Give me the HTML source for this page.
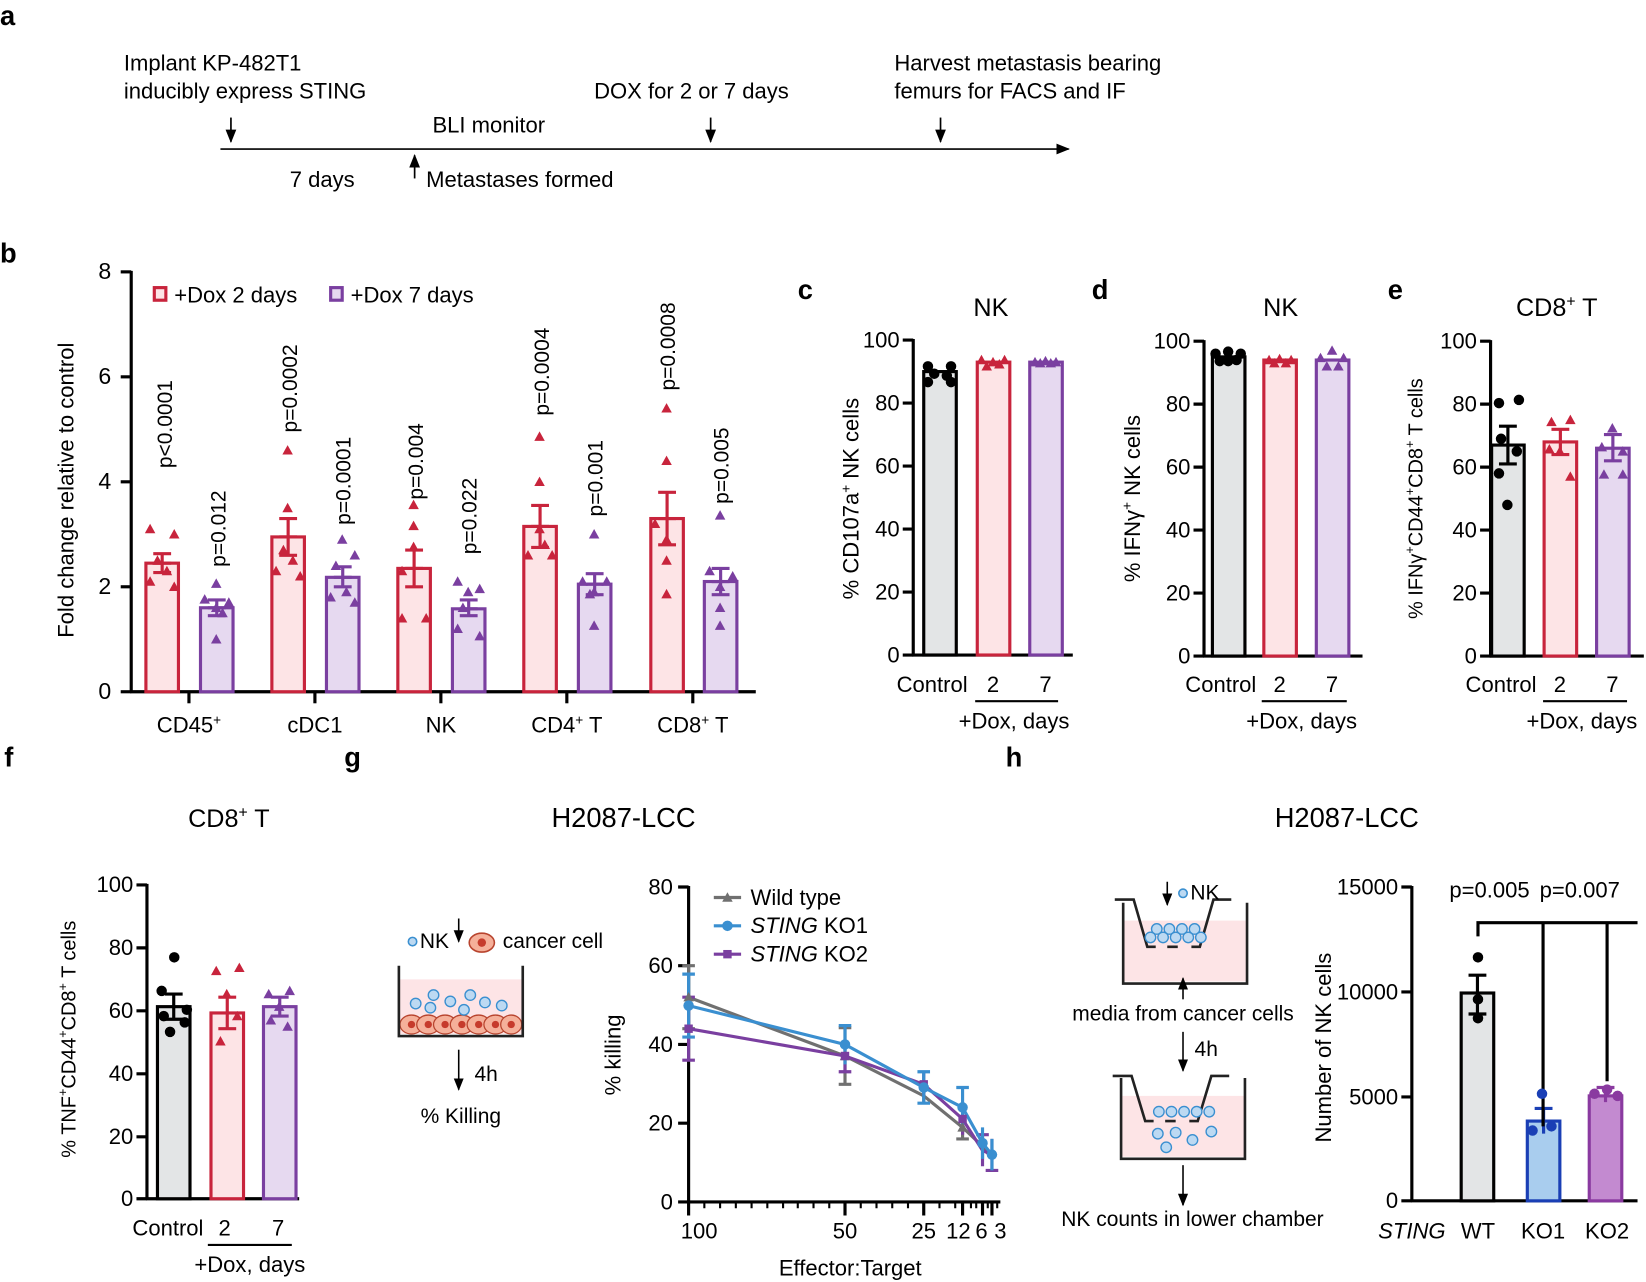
<!DOCTYPE html>
<html><head><meta charset="utf-8"><style>
html,body{margin:0;padding:0;background:#fff}
svg{display:block;font-family:"Liberation Sans",Arial,sans-serif}
</style></head><body>
<svg width="1646" height="1282" viewBox="0 0 1646 1282" xmlns="http://www.w3.org/2000/svg">
<defs>
<polygon id="t" points="0,-5 5,4 -5,4"/>
<circle id="c" r="5"/>
<rect id="s" x="-4" y="-4" width="8" height="8"/>
<marker id="ah" viewBox="0 0 10 10" refX="9" refY="5" markerWidth="8" markerHeight="8" orient="auto"><path d="M0,1 L10,5 L0,9 z" fill="#000"/></marker>
</defs>
<g transform="scale(1.0497)">
<g font-size="21" fill="#000">
<!-- panel labels -->
<text x="0" y="24" font-weight="bold" font-size="26">a</text>
<text x="0" y="250" font-weight="bold" font-size="26">b</text>
<text x="760" y="285" font-weight="bold" font-size="26">c</text>
<text x="1040" y="285" font-weight="bold" font-size="26">d</text>
<text x="1322" y="285" font-weight="bold" font-size="26">e</text>
<text x="4" y="730" font-weight="bold" font-size="26">f</text>
<text x="328" y="730" font-weight="bold" font-size="26">g</text>
<text x="958" y="730" font-weight="bold" font-size="26">h</text>

<!-- panel a -->
<text x="118" y="67">Implant KP-482T1</text>
<text x="118" y="94">inducibly express STING</text>
<text x="412" y="126">BLI monitor</text>
<text x="566" y="94">DOX for 2 or 7 days</text>
<text x="852" y="67">Harvest metastasis bearing</text>
<text x="852" y="94">femurs for FACS and IF</text>
<text x="276" y="178">7 days</text>
<text x="406" y="178">Metastases formed</text>
<g stroke="#000" stroke-width="1.6" fill="none">
<line x1="210" y1="142" x2="1018" y2="142" marker-end="url(#ah)"/>
<line x1="220" y1="112" x2="220" y2="135" marker-end="url(#ah)"/>
<line x1="677" y1="112" x2="677" y2="135" marker-end="url(#ah)"/>
<line x1="896" y1="112" x2="896" y2="135" marker-end="url(#ah)"/>
<line x1="395" y1="170" x2="395" y2="148" marker-end="url(#ah)"/>
</g>

<!-- panel b -->
<g stroke="#000" stroke-width="3" fill="none">
<line x1="125" y1="258" x2="125" y2="660"/>
<line x1="124" y1="659" x2="720" y2="659"/>
<line x1="115" y1="259" x2="125" y2="259"/><line x1="115" y1="359" x2="125" y2="359"/>
<line x1="115" y1="459" x2="125" y2="459"/><line x1="115" y1="559" x2="125" y2="559"/>
<line x1="115" y1="659" x2="125" y2="659"/>
<line x1="180" y1="659" x2="180" y2="670"/><line x1="300" y1="659" x2="300" y2="670"/>
<line x1="420" y1="659" x2="420" y2="670"/><line x1="540" y1="659" x2="540" y2="670"/>
<line x1="660" y1="659" x2="660" y2="670"/>
</g>
<g text-anchor="end" font-size="22"><text x="106" y="266">8</text><text x="106" y="366">6</text><text x="106" y="466">4</text><text x="106" y="566">2</text><text x="106" y="666">0</text></g>
<text transform="translate(70,467) rotate(-90)" text-anchor="middle">Fold change relative to control</text>
<g text-anchor="middle"><text x="180" y="698">CD45<tspan font-size="13" dy="-8">+</tspan></text><text x="300" y="698">cDC1</text><text x="420" y="698">NK</text><text x="540" y="698">CD4<tspan font-size="13" dy="-8">+</tspan><tspan dy="8"> T</tspan></text><text x="660" y="698">CD8<tspan font-size="13" dy="-8">+</tspan><tspan dy="8"> T</tspan></text></g>
<rect x="147" y="274" width="11" height="12" fill="#fde4e6" stroke="#c8243c" stroke-width="3"/>
<text x="166" y="288">+Dox 2 days</text>
<rect x="315" y="274" width="11" height="12" fill="#e6d9f0" stroke="#7a3fa0" stroke-width="3"/>
<text x="334" y="288">+Dox 7 days</text>
<g stroke-width="3">
<g fill="#fde4e6" stroke="#c8243c">
<rect x="139" y="536.5" width="31" height="122.5"/><rect x="259" y="511.5" width="31" height="147.5"/>
<rect x="379" y="541.5" width="31" height="117.5"/><rect x="499" y="501.5" width="31" height="157.5"/>
<rect x="620" y="494" width="31" height="165"/>
</g>
<g fill="#e6d9f0" stroke="#7a3fa0">
<rect x="191" y="579" width="31" height="80"/><rect x="311" y="550" width="31" height="109"/>
<rect x="431" y="580" width="31" height="79"/><rect x="551" y="556.5" width="31" height="102.5"/>
<rect x="671" y="554" width="31" height="105"/>
</g>
<g stroke="#c8243c" fill="none">
<path d="M154.5 545.5V527.5M146 527.5H163M146 545.5H163M146 536.5H163"/>
<path d="M274.5 529V494M266 494H283M266 529H283M266 511.5H283"/>
<path d="M394.5 559V524M386 524H403M386 559H403M386 541.5H403"/>
<path d="M514.5 521.5V481.5M506 481.5H523M506 521.5H523M506 501.5H523"/>
<path d="M635.5 519V469M627 469H644M627 519H644M627 494H644"/>
</g>
<g stroke="#7a3fa0" fill="none">
<path d="M206.5 586.5V571.5M198 571.5H215M198 586.5H215M198 579H215"/>
<path d="M326.5 559V540M318 540H335M318 559H335M318 550H335"/>
<path d="M446.5 586.5V571.5M438 571.5H455M438 586.5H455M438 580H455"/>
<path d="M566.5 566.5V546.5M558 546.5H575M558 566.5H575M558 556.5H575"/>
<path d="M686.5 566.5V541.5M678 541.5H695M678 566.5H695M678 554H695"/>
</g>
</g>
<g fill="#c8243c">
<use href="#t" x="143" y="504"/><use href="#t" x="166" y="509"/><use href="#t" x="150" y="534"/><use href="#t" x="159" y="544"/><use href="#t" x="143" y="554"/><use href="#t" x="166" y="559"/>
<use href="#t" x="274" y="429"/><use href="#t" x="274" y="484"/><use href="#t" x="270" y="524"/><use href="#t" x="279" y="534"/><use href="#t" x="263" y="544"/><use href="#t" x="286" y="549"/>
<use href="#t" x="394" y="481"/><use href="#t" x="394" y="501"/><use href="#t" x="394" y="521"/><use href="#t" x="383" y="544"/><use href="#t" x="383" y="589"/><use href="#t" x="406" y="589"/>
<use href="#t" x="514" y="416"/><use href="#t" x="514" y="459"/><use href="#t" x="514" y="504"/><use href="#t" x="519" y="519"/><use href="#t" x="503" y="529"/><use href="#t" x="526" y="529"/>
<use href="#t" x="635" y="389"/><use href="#t" x="635" y="439"/><use href="#t" x="624" y="499"/><use href="#t" x="635" y="514"/><use href="#t" x="635" y="534"/><use href="#t" x="635" y="566"/>
</g>
<g fill="#7a3fa0">
<use href="#t" x="206" y="556"/><use href="#t" x="195" y="571"/><use href="#t" x="218" y="574"/><use href="#t" x="206" y="579"/><use href="#t" x="212" y="584"/><use href="#t" x="206" y="609"/>
<use href="#t" x="326" y="514"/><use href="#t" x="338" y="529"/><use href="#t" x="320" y="539"/><use href="#t" x="330" y="564"/><use href="#t" x="315" y="569"/><use href="#t" x="338" y="574"/>
<use href="#t" x="436" y="554"/><use href="#t" x="457" y="561"/><use href="#t" x="446" y="564"/><use href="#t" x="441" y="579"/><use href="#t" x="436" y="599"/><use href="#t" x="457" y="606"/>
<use href="#t" x="566" y="509"/><use href="#t" x="555" y="554"/><use href="#t" x="578" y="554"/><use href="#t" x="566" y="564"/><use href="#t" x="562" y="566"/><use href="#t" x="566" y="596"/>
<use href="#t" x="686" y="491"/><use href="#t" x="676" y="544"/><use href="#t" x="698" y="549"/><use href="#t" x="686" y="559"/><use href="#t" x="686" y="579"/><use href="#t" x="686" y="596"/>
</g>
<g font-size="20">
<text transform="translate(164,446) rotate(-90)">p&lt;0.0001</text>
<text transform="translate(215,540) rotate(-90)">p=0.012</text>
<text transform="translate(283,412) rotate(-90)">p=0.0002</text>
<text transform="translate(334,500) rotate(-90)">p=0.0001</text>
<text transform="translate(403,476) rotate(-90)">p=0.004</text>
<text transform="translate(454,528) rotate(-90)">p=0.022</text>
<text transform="translate(523,396) rotate(-90)">p=0.0004</text>
<text transform="translate(574,492) rotate(-90)">p=0.001</text>
<text transform="translate(643,372) rotate(-90)">p=0.0008</text>
<text transform="translate(694,480) rotate(-90)">p=0.005</text>
</g>

<!-- panel c -->
<text x="944" y="301" text-anchor="middle" font-size="24">NK</text>
<g stroke="#000" stroke-width="3" fill="none">
<line x1="870" y1="323" x2="870" y2="625"/><line x1="869" y1="624" x2="1022" y2="624"/>
<path d="M860 324H870M860 384H870M860 444H870M860 504H870M860 564H870M860 624H870"/>
</g>
<g text-anchor="end" font-size="21"><text x="857" y="331">100</text><text x="857" y="391">80</text><text x="857" y="451">60</text><text x="857" y="511">40</text><text x="857" y="571">20</text><text x="857" y="631">0</text></g>
<text transform="translate(818,475) rotate(-90)" text-anchor="middle">% CD107a<tspan font-size="13" dy="-8">+</tspan><tspan dy="8"> NK cells</tspan></text>
<g stroke-width="3">
<rect x="880" y="354" width="31" height="270" fill="#e3e5e6" stroke="#000"/>
<rect x="931" y="345" width="31" height="279" fill="#fde4e6" stroke="#c8243c"/>
<rect x="981" y="345" width="31" height="279" fill="#e6d9f0" stroke="#7a3fa0"/>
</g>
<g fill="#000"><use href="#c" x="884" y="349"/><use href="#c" x="906" y="349"/><use href="#c" x="890" y="356"/><use href="#c" x="902" y="358"/><use href="#c" x="884" y="364"/><use href="#c" x="906" y="364"/></g>
<g fill="#c8243c"><use href="#t" x="935" y="343"/><use href="#t" x="946" y="345"/><use href="#t" x="957" y="343"/><use href="#t" x="940" y="349"/><use href="#t" x="952" y="347"/></g>
<g fill="#7a3fa0"><use href="#t" x="986" y="345"/><use href="#t" x="996" y="344"/><use href="#t" x="1006" y="345"/><use href="#t" x="991" y="346"/><use href="#t" x="1001" y="346"/></g>
<g font-size="21" text-anchor="middle"><text x="888" y="659">Control</text><text x="946" y="659">2</text><text x="996" y="659">7</text><text x="966" y="694">+Dox, days</text></g>
<line x1="929" y1="668" x2="1008" y2="668" stroke="#000" stroke-width="2"/>

<!-- panel d -->
<text x="1220" y="301" text-anchor="middle" font-size="24">NK</text>
<g stroke="#000" stroke-width="3" fill="none">
<line x1="1147" y1="324" x2="1147" y2="626"/><line x1="1146" y1="625" x2="1298" y2="625"/>
<path d="M1137 325H1147M1137 385H1147M1137 445H1147M1137 505H1147M1137 565H1147M1137 625H1147"/>
</g>
<g text-anchor="end" font-size="21"><text x="1134" y="332">100</text><text x="1134" y="392">80</text><text x="1134" y="452">60</text><text x="1134" y="512">40</text><text x="1134" y="572">20</text><text x="1134" y="632">0</text></g>
<text transform="translate(1086,475) rotate(-90)" text-anchor="middle">% IFNγ<tspan font-size="13" dy="-8">+</tspan><tspan dy="8"> NK cells</tspan></text>
<g stroke-width="3">
<rect x="1155" y="340" width="31" height="285" fill="#e3e5e6" stroke="#000"/>
<rect x="1204" y="343" width="31" height="282" fill="#fde4e6" stroke="#c8243c"/>
<rect x="1254" y="343" width="31" height="282" fill="#e6d9f0" stroke="#7a3fa0"/>
</g>
<g fill="#000"><use href="#c" x="1158" y="337"/><use href="#c" x="1170" y="335"/><use href="#c" x="1182" y="337"/><use href="#c" x="1162" y="344"/><use href="#c" x="1178" y="343"/><use href="#c" x="1170" y="344"/></g>
<g fill="#c8243c"><use href="#t" x="1209" y="343"/><use href="#t" x="1219" y="342"/><use href="#t" x="1230" y="343"/><use href="#t" x="1214" y="346"/><use href="#t" x="1225" y="346"/></g>
<g fill="#7a3fa0"><use href="#t" x="1269" y="334"/><use href="#t" x="1258" y="341"/><use href="#t" x="1280" y="341"/><use href="#t" x="1264" y="349"/><use href="#t" x="1275" y="349"/></g>
<g font-size="21" text-anchor="middle"><text x="1163" y="659">Control</text><text x="1219" y="659">2</text><text x="1269" y="659">7</text><text x="1240" y="694">+Dox, days</text></g>
<line x1="1202" y1="668" x2="1283" y2="668" stroke="#000" stroke-width="2"/>

<!-- panel e -->
<text x="1483" y="301" text-anchor="middle" font-size="24">CD8<tspan font-size="15" dy="-9">+</tspan><tspan dy="9"> T</tspan></text>
<g stroke="#000" stroke-width="3" fill="none">
<line x1="1420" y1="324" x2="1420" y2="626"/><line x1="1419" y1="625" x2="1566" y2="625"/>
<path d="M1410 325H1420M1410 385H1420M1410 445H1420M1410 505H1420M1410 565H1420M1410 625H1420"/>
</g>
<g text-anchor="end" font-size="21"><text x="1407" y="332">100</text><text x="1407" y="392">80</text><text x="1407" y="452">60</text><text x="1407" y="512">40</text><text x="1407" y="572">20</text><text x="1407" y="632">0</text></g>
<text transform="translate(1355,475) rotate(-90)" text-anchor="middle" font-size="19">% IFNγ<tspan font-size="12" dy="-8">+</tspan><tspan dy="8">CD44</tspan><tspan font-size="12" dy="-8">+</tspan><tspan dy="8">CD8</tspan><tspan font-size="12" dy="-8">+</tspan><tspan dy="8"> T cells</tspan></text>
<g stroke-width="3">
<rect x="1421" y="424" width="31" height="201" fill="#e3e5e6" stroke="#000"/>
<rect x="1471" y="421" width="31" height="204" fill="#fde4e6" stroke="#c8243c"/>
<rect x="1521" y="427" width="31" height="198" fill="#e6d9f0" stroke="#7a3fa0"/>
<path d="M1436.5 406V442M1428 406H1445M1428 442H1445" stroke="#000" fill="none"/>
<path d="M1486.5 409V433M1478 409H1495M1478 433H1495" stroke="#c8243c" fill="none"/>
<path d="M1536.5 414V439M1528 414H1545M1528 439H1545" stroke="#7a3fa0" fill="none"/>
</g>
<g fill="#000"><use href="#c" x="1428" y="384"/><use href="#c" x="1447" y="381"/><use href="#c" x="1430" y="418"/><use href="#c" x="1445" y="430"/><use href="#c" x="1428" y="451"/><use href="#c" x="1436" y="481"/></g>
<g fill="#c8243c"><use href="#t" x="1478" y="402"/><use href="#t" x="1496" y="400"/><use href="#t" x="1486" y="430"/><use href="#t" x="1476" y="428"/><use href="#t" x="1496" y="454"/></g>
<g fill="#7a3fa0"><use href="#t" x="1536" y="408"/><use href="#t" x="1526" y="426"/><use href="#t" x="1546" y="430"/><use href="#t" x="1528" y="452"/><use href="#t" x="1546" y="452"/></g>
<g font-size="21" text-anchor="middle"><text x="1430" y="659">Control</text><text x="1486" y="659">2</text><text x="1536" y="659">7</text><text x="1507" y="694">+Dox, days</text></g>
<line x1="1470" y1="668" x2="1550" y2="668" stroke="#000" stroke-width="2"/>

<!-- panel f -->
<text x="218" y="788" text-anchor="middle" font-size="24">CD8<tspan font-size="15" dy="-9">+</tspan><tspan dy="9"> T</tspan></text>
<g stroke="#000" stroke-width="3" fill="none">
<line x1="140" y1="842" x2="140" y2="1143"/><line x1="139" y1="1142" x2="285" y2="1142"/>
<path d="M130 843H140M130 903H140M130 963H140M130 1023H140M130 1083H140M130 1142H140"/>
</g>
<g text-anchor="end" font-size="21"><text x="127" y="850">100</text><text x="127" y="910">80</text><text x="127" y="970">60</text><text x="127" y="1030">40</text><text x="127" y="1090">20</text><text x="127" y="1149">0</text></g>
<text transform="translate(72,990) rotate(-90)" text-anchor="middle" font-size="19">% TNF<tspan font-size="12" dy="-8">+</tspan><tspan dy="8">CD44</tspan><tspan font-size="12" dy="-8">+</tspan><tspan dy="8">CD8</tspan><tspan font-size="12" dy="-8">+</tspan><tspan dy="8"> T cells</tspan></text>
<g stroke-width="3">
<rect x="150" y="959" width="31" height="183" fill="#e3e5e6" stroke="#000"/>
<rect x="201" y="965" width="31" height="177" fill="#fde4e6" stroke="#c8243c"/>
<rect x="251" y="959" width="31" height="183" fill="#e6d9f0" stroke="#7a3fa0"/>
<path d="M165.5 947V971M157 947H174M157 971H174" stroke="#000" fill="none"/>
<path d="M216.5 950V980M208 950H225M208 980H225" stroke="#c8243c" fill="none"/>
<path d="M266.5 950V968M258 950H275M258 968H275" stroke="#7a3fa0" fill="none"/>
</g>
<g fill="#000"><use href="#c" x="166" y="912"/><use href="#c" x="154" y="944"/><use href="#c" x="178" y="962"/><use href="#c" x="156" y="968"/><use href="#c" x="176" y="974"/><use href="#c" x="162" y="983"/></g>
<g fill="#c8243c"><use href="#t" x="206" y="925"/><use href="#t" x="228" y="922"/><use href="#t" x="216" y="947"/><use href="#t" x="226" y="968"/><use href="#t" x="210" y="992"/></g>
<g fill="#7a3fa0"><use href="#t" x="256" y="947"/><use href="#t" x="276" y="944"/><use href="#t" x="266" y="959"/><use href="#t" x="258" y="972"/><use href="#t" x="274" y="978"/></g>
<g font-size="21" text-anchor="middle"><text x="160" y="1177">Control</text><text x="214" y="1177">2</text><text x="265" y="1177">7</text><text x="238" y="1212">+Dox, days</text></g>
<line x1="198" y1="1186" x2="278" y2="1186" stroke="#000" stroke-width="2"/>

<!-- panel g -->
<text x="594" y="788" text-anchor="middle" font-size="26">H2087-LCC</text>
<circle cx="393" cy="897" r="4" fill="#bcd9f2" stroke="#3a8fd0" stroke-width="1.5"/>
<text x="400" y="903" font-size="20">NK</text>
<line x1="437" y1="875" x2="437" y2="897" stroke="#000" stroke-width="1.5" marker-end="url(#ah)"/>
<ellipse cx="459" cy="898" rx="12" ry="9" fill="#f5b09a" stroke="#b8442e" stroke-width="1.5"/><circle cx="459" cy="898" r="4" fill="#c63b2c"/>
<text x="479" y="903" font-size="20">cancer cell</text>
<rect x="380" y="933" width="118" height="52" fill="#fde4e6"/>
<g fill="#f5b09a" stroke="#b8442e" stroke-width="1.2">
<ellipse cx="392" cy="976" rx="11" ry="9"/><ellipse cx="408" cy="976" rx="11" ry="9"/><ellipse cx="424" cy="976" rx="11" ry="9"/><ellipse cx="440" cy="976" rx="11" ry="9"/><ellipse cx="456" cy="976" rx="11" ry="9"/><ellipse cx="472" cy="976" rx="11" ry="9"/><ellipse cx="487" cy="976" rx="10" ry="9"/>
</g>
<g fill="#c63b2c"><circle cx="392" cy="976" r="3.5"/><circle cx="408" cy="976" r="3.5"/><circle cx="424" cy="976" r="3.5"/><circle cx="440" cy="976" r="3.5"/><circle cx="456" cy="976" r="3.5"/><circle cx="472" cy="976" r="3.5"/><circle cx="487" cy="976" r="3.5"/></g>
<g fill="#bcd9f2" stroke="#3a8fd0" stroke-width="1.3">
<circle cx="396" cy="956" r="5"/><circle cx="410" cy="960" r="5"/><circle cx="413" cy="948" r="5"/><circle cx="429" cy="954" r="5"/><circle cx="442" cy="962" r="5"/><circle cx="448" cy="948" r="5"/><circle cx="462" cy="955" r="5"/><circle cx="478" cy="958" r="5"/>
</g>
<path d="M380 920V987H498V920" fill="none" stroke="#222" stroke-width="2.5"/>
<line x1="437" y1="1000" x2="437" y2="1038" stroke="#000" stroke-width="1.5" marker-end="url(#ah)"/>
<text x="452" y="1030" font-size="20">4h</text>
<text x="439" y="1070" font-size="20" text-anchor="middle">% Killing</text>

<g stroke="#000" stroke-width="3" fill="none">
<line x1="656" y1="844" x2="656" y2="1146"/><line x1="655" y1="1145" x2="953" y2="1145"/>
<path d="M646 845H656M646 920H656M646 995H656M646 1070H656M646 1145H656"/>
<path d="M656 1145V1158M805 1145V1158M880 1145V1158M917 1145V1158M936 1145V1158M945 1145V1158"/>
</g>
<g stroke="#000" stroke-width="2"><path d="M671 1145v6M686 1145v6M701 1145v6M716 1145v6M731 1145v6M746 1145v6M760 1145v6M775 1145v6M790 1145v6M820 1145v6M835 1145v6M850 1145v6M865 1145v6M895 1145v6M910 1145v6M925 1145v6M930 1145v6M941 1145v6M950 1145v6"/></g>
<g text-anchor="end" font-size="21"><text x="641" y="852">80</text><text x="641" y="927">60</text><text x="641" y="1002">40</text><text x="641" y="1077">20</text><text x="641" y="1152">0</text></g>
<g text-anchor="middle" font-size="21"><text x="666" y="1180">100</text><text x="805" y="1180">50</text><text x="880" y="1180">25</text><text x="913" y="1180">12</text><text x="935" y="1180">6</text><text x="953" y="1180">3</text></g>
<text x="810" y="1215" text-anchor="middle">Effector:Target</text>
<text transform="translate(591,1005) rotate(-90)" text-anchor="middle">% killing</text>
<g stroke-width="3" fill="none">
<g stroke="#707070"><path d="M656 950L805 1006L880 1044L917 1074L936 1092L945 1104"/><path d="M656 920V980M650 920H662M650 980H662M805 979V1033M799 979H811M799 1033H811M880 1036V1052M917 1063V1085M911 1085H923"/></g>
<g stroke="#7a3fa0"><path d="M656 980L805 1006L880 1033L917 1066L936 1096L945 1100"/><path d="M656 950V1010M650 950H662M650 1010H662M805 991V1021M799 1021H811M880 1021V1044M917 1052V1081M936 1081V1111M930 1081H942M945 1085V1115M939 1115H951"/></g>
<g stroke="#3a8fd0"><path d="M656 958L805 995L880 1036L917 1055L936 1089L945 1100"/><path d="M656 928V988M650 928H662M650 988H662M805 977V1014M799 977H811M880 1021V1051M874 1021H886M874 1051H886M917 1036V1074M911 1036H923M936 1074V1104M945 1085V1115"/></g>
</g>
<g fill="#707070"><use href="#t" x="656" y="950"/><use href="#t" x="805" y="1006"/><use href="#t" x="917" y="1074"/></g>
<g fill="#7a3fa0"><use href="#s" x="656" y="980"/><use href="#s" x="805" y="1006"/><use href="#s" x="880" y="1033"/><use href="#s" x="917" y="1066"/></g>
<g fill="#3a8fd0"><use href="#c" x="656" y="958"/><use href="#c" x="805" y="995"/><use href="#c" x="880" y="1036"/><use href="#c" x="917" y="1055"/><use href="#c" x="936" y="1089"/><use href="#c" x="945" y="1100"/></g>
<g stroke-width="3"><line x1="680" y1="855" x2="706" y2="855" stroke="#707070"/><line x1="680" y1="882" x2="706" y2="882" stroke="#3a8fd0"/><line x1="680" y1="909" x2="706" y2="909" stroke="#7a3fa0"/></g>
<use href="#t" x="693" y="855" fill="#707070"/><use href="#c" x="693" y="882" fill="#3a8fd0"/><use href="#s" x="693" y="909" fill="#7a3fa0"/>
<g font-size="21"><text x="715" y="862">Wild type</text><text x="715" y="889"><tspan font-style="italic">STING</tspan> KO1</text><text x="715" y="916"><tspan font-style="italic">STING</tspan> KO2</text></g>

<!-- panel h -->
<text x="1283" y="788" text-anchor="middle" font-size="26">H2087-LCC</text>
<rect x="1070" y="877" width="118" height="58" fill="#fde4e6"/>
<path d="M1070 860V937H1188V860" fill="none" stroke="#222" stroke-width="2.5"/>
<path d="M1062 857H1080L1093 902H1101M1112 902H1122M1135 902H1143L1156 857H1173" fill="none" stroke="#222" stroke-width="2.5"/>
<g fill="#bcd9f2" stroke="#3a8fd0" stroke-width="1.3"><circle cx="1102" cy="885" r="5"/><circle cx="1114" cy="885" r="5"/><circle cx="1126" cy="885" r="5"/><circle cx="1138" cy="885" r="5"/><circle cx="1096" cy="893" r="5"/><circle cx="1108" cy="893" r="5"/><circle cx="1120" cy="893" r="5"/><circle cx="1132" cy="893" r="5"/><circle cx="1144" cy="893" r="5"/></g>
<line x1="1112" y1="840" x2="1112" y2="862" stroke="#000" stroke-width="1.5" marker-end="url(#ah)"/>
<circle cx="1127" cy="851" r="4" fill="#bcd9f2" stroke="#3a8fd0" stroke-width="1.5"/>
<text x="1134" y="857" font-size="20">NK</text>
<line x1="1127" y1="952" x2="1127" y2="932" stroke="#000" stroke-width="1.5" marker-end="url(#ah)"/>
<text x="1127" y="972" font-size="20" text-anchor="middle">media from cancer cells</text>
<line x1="1127" y1="983" x2="1127" y2="1020" stroke="#000" stroke-width="1.5" marker-end="url(#ah)"/>
<text x="1138" y="1006" font-size="20">4h</text>
<rect x="1068" y="1044" width="118" height="58" fill="#fde4e6"/>
<path d="M1068 1027V1104H1186V1027" fill="none" stroke="#222" stroke-width="2.5"/>
<path d="M1060 1025H1078L1091 1068H1099M1110 1068H1120M1133 1068H1141L1154 1025H1171" fill="none" stroke="#222" stroke-width="2.5"/>
<g fill="#bcd9f2" stroke="#3a8fd0" stroke-width="1.3"><circle cx="1104" cy="1059" r="5"/><circle cx="1116" cy="1059" r="5"/><circle cx="1128" cy="1059" r="5"/><circle cx="1140" cy="1059" r="5"/><circle cx="1152" cy="1059" r="5"/><circle cx="1103" cy="1080" r="5"/><circle cx="1120" cy="1079" r="5"/><circle cx="1154" cy="1078" r="5"/><circle cx="1111" cy="1093" r="5"/><circle cx="1136" cy="1086" r="5"/></g>
<line x1="1127" y1="1110" x2="1127" y2="1148" stroke="#000" stroke-width="1.5" marker-end="url(#ah)"/>
<text x="1136" y="1168" font-size="20" text-anchor="middle">NK counts in lower chamber</text>

<g stroke="#000" stroke-width="3" fill="none">
<line x1="1345" y1="844" x2="1345" y2="1145"/><line x1="1344" y1="1144" x2="1560" y2="1144"/>
<path d="M1335 845H1345M1335 945H1345M1335 1045H1345M1335 1144H1345"/>
</g>
<g text-anchor="end" font-size="21"><text x="1332" y="852">15000</text><text x="1332" y="952">10000</text><text x="1332" y="1052">5000</text><text x="1332" y="1151">0</text></g>
<text transform="translate(1268,998) rotate(-90)" text-anchor="middle">Number of NK cells</text>
<g stroke-width="3">
<rect x="1392" y="946" width="31" height="198" fill="#e3e5e6" stroke="#000"/>
<rect x="1455" y="1068" width="31" height="76" fill="#a9cdee" stroke="#1a3fb5"/>
<rect x="1514" y="1044" width="31" height="100" fill="#c38ad0" stroke="#8a3aa0"/>
<path d="M1407.5 929V966M1399 929H1416M1399 966H1416" stroke="#000" fill="none"/>
<path d="M1470.5 1056V1080M1462 1056H1479" stroke="#1a3fb5" fill="none"/>
<path d="M1529.5 1036V1050M1521 1036H1538" stroke="#8a3aa0" fill="none"/>
<path d="M1408 892V879H1560M1470 879V1073M1531 879V1030" stroke="#000" fill="none"/>
</g>
<g fill="#000"><use href="#c" x="1408" y="912"/><use href="#c" x="1408" y="952"/><use href="#c" x="1408" y="970"/></g>
<g fill="#1a3fb5"><use href="#c" x="1469" y="1042"/><use href="#c" x="1460" y="1077"/><use href="#c" x="1478" y="1073"/></g>
<g fill="#8a3aa0"><use href="#c" x="1519" y="1042"/><use href="#c" x="1531" y="1038"/><use href="#c" x="1541" y="1044"/></g>
<g font-size="21" text-anchor="middle"><text x="1419" y="855">p=0.005</text><text x="1505" y="855">p=0.007</text></g>
<g font-size="21" text-anchor="middle"><text x="1345" y="1180" font-style="italic">STING</text><text x="1408" y="1180">WT</text><text x="1470" y="1180">KO1</text><text x="1531" y="1180">KO2</text></g>
</g>
</g>
</svg>
</body></html>
